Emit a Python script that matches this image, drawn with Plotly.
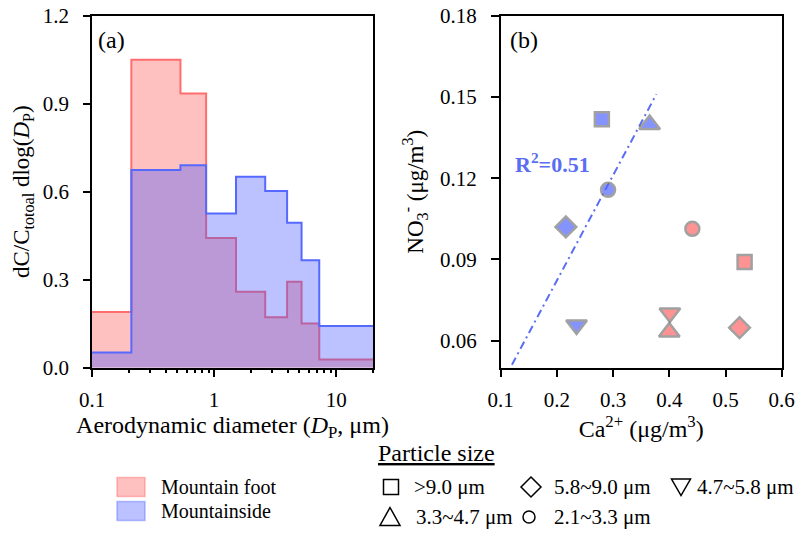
import plotly.graph_objects as go

W, H = 801, 535
FONT = "Liberation Serif"

# ---------------- data: panel (a) ----------------
bin_edges = [0.1, 0.21, 0.53, 0.86, 1.51, 2.62, 3.96, 5.2, 7.26, 20]
foot_dist = [0.19, 1.05, 0.935, 0.442, 0.259, 0.172, 0.293, 0.151, 0.028]
side_dist = [0.052, 0.674, 0.690, 0.526, 0.651, 0.602, 0.494, 0.366, 0.142]

# ---------------- data: panel (b) ----------------
size_classes = [">9.0 μm", "5.8~9.0 μm", "4.7~5.8 μm", "3.3~4.7 μm", "2.1~3.3 μm"]
ca_side = [0.280, 0.216, 0.235, 0.365, 0.291]
no3_side = [0.1418, 0.1020, 0.0658, 0.1398, 0.1157]
ca_foot = [0.534, 0.525, 0.401, 0.400, 0.441]
no3_foot = [0.0890, 0.0648, 0.0702, 0.0632, 0.1013]
fit_x = [0.12, 0.377]
fit_y = [0.0511, 0.1510]
r2_label = "R<sup>2</sup>=0.51"

x_a_ticks = [0.1, 1, 10]
x_a_minor = [0.2, 0.3, 0.4, 0.5, 0.6, 0.7, 0.8, 0.9, 2, 3, 4, 5, 6, 7, 8, 9, 20]
y_a_ticks = [0, 0.3, 0.6, 0.9, 1.2]
x_b_ticks = [0.1, 0.2, 0.3, 0.4, 0.5, 0.6]
y_b_ticks = [0.06, 0.09, 0.12, 0.15, 0.18]

# ---------------- styles ----------------
FOOT_LINE = "rgb(255,110,110)"
FOOT_FILL = "rgba(255,80,80,0.36)"
SIDE_LINE = "rgb(85,105,255)"
SIDE_FILL = "rgba(60,80,255,0.35)"
SIDE_MK = "rgb(82,102,255)"
FOOT_MK = "rgb(255,100,100)"
EDGE = "rgb(122,122,122)"
symbols = ["square", "diamond", "triangle-down", "triangle-up", "circle"]
sym_size = {"square": 14, "diamond": 16, "triangle-down": 18, "triangle-up": 18, "circle": 14}


def px(x):
    return x / W


def py(y):
    return 1 - y / H


fig = go.Figure()

# panel (a) step distributions
fig.add_trace(go.Scatter(
    x=bin_edges, y=foot_dist + [foot_dist[-1]], mode="lines", line_shape="hv",
    fill="tozeroy", fillcolor=FOOT_FILL, line=dict(color=FOOT_LINE, width=2),
    name="Mountain foot", showlegend=False, xaxis="x", yaxis="y"))
fig.add_trace(go.Scatter(
    x=bin_edges, y=side_dist + [side_dist[-1]], mode="lines", line_shape="hv",
    fill="tozeroy", fillcolor=SIDE_FILL, line=dict(color=SIDE_LINE, width=2),
    name="Mountainside", showlegend=False, xaxis="x", yaxis="y"))

# panel (b)
fig.add_trace(go.Scatter(
    x=fit_x, y=fit_y, mode="lines", line=dict(color="rgb(90,110,245)", width=2, dash="8px,4px,2px,4px"),
    showlegend=False, xaxis="x2", yaxis="y2"))
fig.add_trace(go.Scatter(
    x=ca_side, y=no3_side, mode="markers", text=size_classes, name="Mountainside",
    marker=dict(symbol=symbols, size=[sym_size[s] for s in symbols], color=SIDE_MK,
                line=dict(color=EDGE, width=2.5)),
    showlegend=False, xaxis="x2", yaxis="y2"))
fig.add_trace(go.Scatter(
    x=ca_foot, y=no3_foot, mode="markers", text=size_classes, name="Mountain foot",
    marker=dict(symbol=symbols, size=[sym_size[s] for s in symbols], color=FOOT_MK,
                line=dict(color=EDGE, width=2.5)),
    showlegend=False, xaxis="x2", yaxis="y2"))

tickfont = dict(family=FONT, size=21, color="black")
xtitlefont = dict(family=FONT, size=24, color="black")
ytitlefont = dict(family=FONT, size=23, color="black")
common = dict(showline=True, linecolor="black", linewidth=1.5, mirror=True,
              ticks="outside", tickcolor="black", tickwidth=1.5, showgrid=False,
              zeroline=False, tickfont=tickfont, automargin=False)

ydom = [py(367.7), py(15.7)]
fig.update_layout(
    width=W, height=H, margin=dict(l=0, r=0, t=0, b=0, autoexpand=False),
    paper_bgcolor="white", plot_bgcolor="white", showlegend=False,
    xaxis=dict(domain=[px(92), px(373)], type="log", range=[-1, 1.30103],
               tickvals=x_a_ticks, ticktext=["0.1", "1", "10"], ticklen=8,
               minor=dict(tickvals=x_a_minor, ticks="outside", ticklen=4, tickcolor="black", tickwidth=1.5),
               ticklabelstandoff=4,
               title=dict(text="Aerodynamic diameter (<i>D</i><sub>P</sub>, μm)", font=xtitlefont, standoff=0),
               anchor="y", **common),
    yaxis=dict(domain=ydom, range=[0, 1.2], tickvals=y_a_ticks, tickformat=".1f", ticklen=7,
               ticklabelstandoff=10,
               title=dict(text="dC/C<sub>totoal</sub> dlog(<i>D</i><sub>P</sub>)", font=ytitlefont, standoff=7),
               anchor="x", **common),
    xaxis2=dict(domain=[px(500.7), px(781.7)], range=[0.1, 0.6], tickvals=x_b_ticks, tickformat=".1f",
                ticklen=8, ticklabelstandoff=4,
                title=dict(text="Ca<sup>2+</sup> (μg/m<sup>3</sup>)", font=xtitlefont, standoff=0),
                anchor="y2", **common),
    yaxis2=dict(domain=ydom, range=[0.05, 0.18], tickvals=y_b_ticks, tickformat=".2f", ticklen=8,
                ticklabelstandoff=10,
                title=dict(text="NO<sub>3</sub><sup>-</sup> (μg/m<sup>3</sup>)", font=ytitlefont, standoff=10),
                anchor="x2", **common),
)

ann = []
ann.append(dict(text="(a)", x=px(96), y=py(40), xref="paper", yref="paper", xanchor="left", yanchor="middle",
                showarrow=False, font=dict(family=FONT, size=24, color="black")))
ann.append(dict(text="(b)", x=px(508), y=py(40), xref="paper", yref="paper", xanchor="left", yanchor="middle",
                showarrow=False, font=dict(family=FONT, size=24, color="black")))
ann.append(dict(text="<b>" + r2_label + "</b>", x=0.1214, y=0.1256, xref="x2", yref="y2",
                xanchor="left", yanchor="middle", showarrow=False,
                font=dict(family=FONT, size=22, color="rgb(90,110,245)")))

# legend: particle size title
ann.append(dict(text="<u>Particle size</u>", x=px(436), y=py(453), xref="paper", yref="paper",
                xanchor="center", yanchor="middle", showarrow=False,
                font=dict(family=FONT, size=24, color="black")))

shapes = []
# legend: site boxes
leg_sites = [("Mountain foot", FOOT_FILL, 487), ("Mountainside", SIDE_FILL, 511)]
for name, fc, yc in leg_sites:
    shapes.append(dict(type="rect", xref="paper", yref="paper", x0=px(117), x1=px(145),
                       y0=py(yc - 9.5), y1=py(yc + 9.5), fillcolor=fc,
                       line=dict(color=fc, width=1.5)))
    ann.append(dict(text=name, x=px(159), y=py(yc), xref="paper", yref="paper", xanchor="left",
                    yanchor="middle", showarrow=False, font=dict(family=FONT, size=20, color="black")))

# legend: particle size symbols
def path(points):
    return "M " + " L ".join(f"{px(a):.5f},{py(b):.5f}" for a, b in points) + " Z"

sym_leg = [
    ("square", 391, 487, 412, size_classes[0]),
    ("diamond", 531, 487, 552, size_classes[1]),
    ("triangle-down", 681, 487, 695, size_classes[2]),
    ("triangle-up", 390, 517, 414, size_classes[3]),
    ("circle", 529, 517, 552, size_classes[4]),
]
ln = dict(color="black", width=1.5)
for sym, cx, cy, tx, label in sym_leg:
    if sym == "square":
        shapes.append(dict(type="rect", xref="paper", yref="paper", x0=px(cx - 7.5), x1=px(cx + 7.5),
                           y0=py(cy - 7.5), y1=py(cy + 7.5), line=ln))
    elif sym == "diamond":
        shapes.append(dict(type="path", xref="paper", yref="paper",
                           path=path([(cx, cy - 10), (cx + 10, cy), (cx, cy + 10), (cx - 10, cy)]), line=ln))
    elif sym == "triangle-down":
        shapes.append(dict(type="path", xref="paper", yref="paper",
                           path=path([(cx - 9.5, cy - 8), (cx + 9.5, cy - 8), (cx, cy + 8.5)]), line=ln))
    elif sym == "triangle-up":
        shapes.append(dict(type="path", xref="paper", yref="paper",
                           path=path([(cx, cy - 9.5), (cx + 10, cy + 8.5), (cx - 10, cy + 8.5)]), line=ln))
    elif sym == "circle":
        shapes.append(dict(type="circle", xref="paper", yref="paper", x0=px(cx - 6), x1=px(cx + 6),
                           y0=py(cy - 6), y1=py(cy + 6), line=ln))
    ann.append(dict(text=label, x=px(tx), y=py(cy), xref="paper", yref="paper", xanchor="left",
                    yanchor="middle", showarrow=False, font=dict(family=FONT, size=21, color="black")))

fig.update_layout(annotations=ann, shapes=shapes)
fig.write_html("out.html", config={"displayModeBar": False},
               post_script="document.body.style.margin='0px';document.body.style.overflow='hidden';")
